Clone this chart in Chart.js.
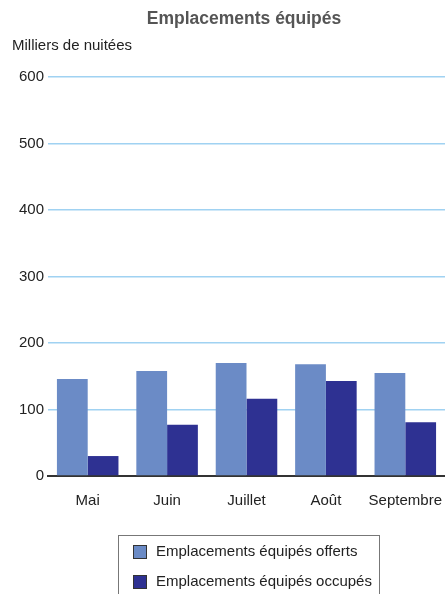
<!DOCTYPE html>
<html>
<head>
<meta charset="utf-8">
<script src="https://cdn.jsdelivr.net/npm/chart.js@4/dist/chart.umd.min.js"></script>
<style>
  html, body { margin:0; padding:0; background:#fff; overflow:hidden; }
  #wrap { width:445px; height:594px; }
</style>
</head>
<body>
<div id="wrap"><canvas id="c" width="445" height="594"></canvas></div>
<script>
// Emplacements équipés: offerts vs occupés, par mois
const months = ['Mai', 'Juin', 'Juillet', 'Août', 'Septembre'];
const offerts = [146, 158, 170, 168, 155];
const occupes = [30, 77, 116, 143, 81];
const seriesLabels = ['Emplacements équipés offerts', 'Emplacements équipés occupés'];
const seriesColors = ['#6b8bc6', '#2e3192'];
const chartTitle = 'Emplacements équipés';
const yTitle = 'Milliers de nuitées';

const FONT = "'Liberation Sans', Arial, sans-serif";

// title, unit label and boxed legend drawn by hand (layout differs from Chart.js defaults)
const decor = {
  id: 'decor',
  afterDraw(chart){
    const ctx = chart.ctx;
    ctx.save();
    ctx.textBaseline = 'middle';
    ctx.fillStyle = '#555';
    ctx.font = 'bold 17.5px ' + FONT;
    ctx.textAlign = 'center';
    ctx.fillText(chartTitle, 244, 19);
    ctx.fillStyle = '#222';
    ctx.font = '15px ' + FONT;
    ctx.textAlign = 'left';
    ctx.fillText(yTitle, 12, 46);

    // legend box
    ctx.strokeStyle = '#777';
    ctx.lineWidth = 1;
    ctx.strokeRect(118.5, 535.5, 261, 80);
    chart.data.datasets.forEach((ds, i) => {
      const cy = 552 + i * 30;
      ctx.fillStyle = ds.backgroundColor;
      ctx.fillRect(133, cy - 7, 14, 14);
      ctx.strokeStyle = '#333';
      ctx.strokeRect(133.5, cy - 6.5, 13, 13);
      ctx.fillStyle = '#222';
      ctx.fillText(ds.label, 156, cy);
    });
    ctx.restore();
  }
};

new Chart(document.getElementById('c'), {
  type: 'bar',
  data: {
    labels: months,
    datasets: [
      { label: seriesLabels[0], data: offerts, backgroundColor: seriesColors[0] },
      { label: seriesLabels[1], data: occupes, backgroundColor: seriesColors[1] }
    ]
  },
  options: {
    responsive: false,
    animation: false,
    layout: { padding: { top: 77, bottom: 76, left: 0, right: 0 } },
    datasets: { bar: { categoryPercentage: 0.775, barPercentage: 1 } },
    plugins: { legend: { display: false }, title: { display: false }, tooltip: { enabled: false } },
    scales: {
      x: {
        z: 1,
        afterFit(scale){ scale.paddingLeft = 0; scale.paddingRight = 0; },
        grid: { display: false },
        border: { display: true, color: '#333', width: 2 },
        ticks: { color: '#222', font: { family: FONT, size: 15 }, padding: 8, maxRotation: 0 }
      },
      y: {
        min: 0, max: 600,
        afterFit(scale){ scale.width = 48; },
        border: { display: false },
        grid: { drawTicks: false, color: '#a0d2f2', lineWidth: 1.5 },
        ticks: { stepSize: 100, color: '#222', font: { family: FONT, size: 15 }, padding: 4 }
      }
    }
  },
  plugins: [decor]
});
</script>
</body>
</html>
